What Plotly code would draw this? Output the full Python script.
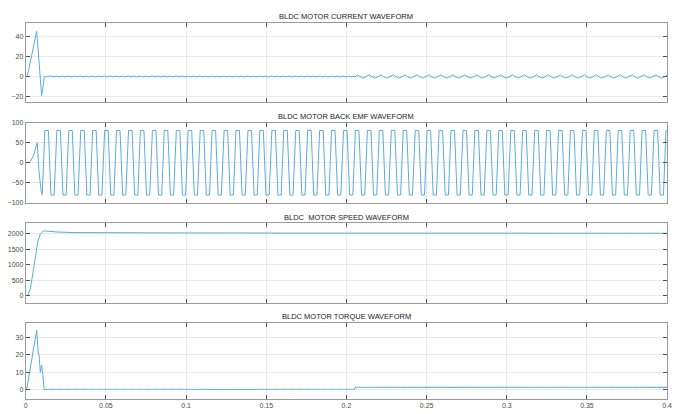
import plotly.graph_objects as go

# ---------------- data ----------------
x_tick_vals = [0, 0.05, 0.1, 0.15, 0.2, 0.25, 0.3, 0.35, 0.4]
x_tick_text = ["0", "0.05", "0.1", "0.15", "0.2", "0.25", "0.3", "0.35", "0.4"]

titles = ["BLDC MOTOR CURRENT WAVEFORM", "BLDC MOTOR BACK EMF WAVEFORM",
          "BLDC  MOTOR SPEED WAVEFORM", "BLDC MOTOR TORQUE WAVEFORM"]

y_ticks_current = [-20, 0, 20, 40]
y_ticks_emf = [-100, -50, 0, 50, 100]
y_ticks_speed = [0, 500, 1000, 1500, 2000]
y_ticks_torque = [0, 10, 20, 30]

load_time = 0.2

# start of each electrical cycle (start of back-EMF positive plateau)
cycle_t = [0.0119, 0.0194, 0.0268, 0.0343, 0.0417, 0.0492, 0.0566, 0.0641, 0.0715, 0.0790,
           0.0864, 0.0939, 0.1013, 0.1088, 0.1162, 0.1237, 0.1311, 0.1386, 0.1460, 0.1535,
           0.1609, 0.1684, 0.1758, 0.1833, 0.1907, 0.1982, 0.2056, 0.2131, 0.2205, 0.2280,
           0.2354, 0.2429, 0.2503, 0.2578, 0.2652, 0.2727, 0.2801, 0.2876, 0.2950, 0.3025,
           0.3099, 0.3174, 0.3248, 0.3323, 0.3397, 0.3472, 0.3546, 0.3621, 0.3695, 0.3770,
           0.3844, 0.3919, 0.3993]

# start-up transients
cur_start_t = [0, 0.0008, 0.002, 0.0037, 0.0055, 0.0068, 0.0078, 0.0088, 0.0095, 0.0099, 0.0106, 0.0112, 0.0116]
cur_start_v = [0, 0, 8, 22, 38, 45, 25, 0, -14, -19, -12, -2, 0]

emf_start_t = [0, 0.0025, 0.0045, 0.006, 0.0072, 0.0082, 0.0090, 0.0097, 0.0103]
emf_start_v = [0, 1, 15, 32, 50, -20, -55, -74, -80]

speed_t = [0, 0.0012, 0.003, 0.0045, 0.006, 0.0075, 0.009, 0.0105, 0.0115, 0.015, 0.02, 0.03, 0.05, 0.1, 0.2, 0.3, 0.4]
speed_v = [0, 10, 250, 800, 1350, 1750, 1980, 2080, 2095, 2080, 2060, 2042, 2033, 2030, 2025, 2022, 2020]

trq_start_t = [0, 0.0005, 0.002, 0.004, 0.0058, 0.0068, 0.0078, 0.0083, 0.0091, 0.0099, 0.0106, 0.0115]
trq_start_v = [0, 0, 8, 20, 30, 34, 21, 20, 10, 14, 9, 0]

# one electrical cycle of each waveform (offset from cycle start, value)
emf_cycle_dt = [0, 0.0022, 0.0038, 0.0058]
emf_cycle_v = [81, 81, -81, -81]

cur_idle_dt = [0, 0.0012, 0.0025, 0.0037, 0.0049, 0.0062]
cur_idle_v = [0.5, -0.3, 0.4, 0.5, -0.3, 0.4]
cur_load_dt = [0, 0.0012, 0.0025, 0.0045, 0.006]
cur_load_v = [0.3, 1.8, 0.2, -1.5, -0.6]

trq_idle_dt = [0, 0.0006, 0.0012, 0.0019, 0.0025, 0.0031, 0.0037, 0.0043, 0.0050, 0.0056, 0.0062, 0.0068]
trq_idle_v = [0.45, 0.15, 0.45, 0.15, 0.45, 0.15, 0.45, 0.15, 0.45, 0.15, 0.45, 0.15]
trq_load_dt = [0, 0.0006, 0.0012, 0.0019, 0.0025, 0.0031, 0.0037, 0.0043, 0.0050, 0.0056, 0.0062, 0.0068]
trq_load_v = [1.8, 1.1, 1.8, 1.1, 1.8, 1.1, 1.8, 1.1, 1.8, 1.1, 1.8, 1.1]
trq_step_t = [0.2, 0.2015, 0.203, 0.2045]
trq_step_v = [0.3, 2.4, 1.2, 2.1]


# ---------------- assemble traces ----------------
def periodic(start_t, start_v, idle_dt, idle_v, load_dt=None, load_v=None, extra_t=None, extra_v=None):
    xs, ys = list(start_t), list(start_v)
    for c in cycle_t:
        if load_dt is not None and c >= load_time:
            if extra_t is not None and xs[-1] < load_time:
                xs += extra_t
                ys += extra_v
            dts, vs = load_dt, load_v
        else:
            dts, vs = idle_dt, idle_v
        for d, v in zip(dts, vs):
            t = c + d
            if t > xs[-1]:
                xs.append(t)
                ys.append(v)
    return xs, ys


cur_x, cur_y = periodic(cur_start_t, cur_start_v, cur_idle_dt, cur_idle_v, cur_load_dt, cur_load_v)
emf_x, emf_y = periodic(emf_start_t, emf_start_v, emf_cycle_dt, emf_cycle_v)
trq_x, trq_y = periodic(trq_start_t, trq_start_v, trq_idle_dt, trq_idle_v, trq_load_dt, trq_load_v,
                        trq_step_t, trq_step_v)

line_color = "#5aabe0"
W, H = 683, 414
x0, x1 = 24, 672
panels = [
    (19, 100, [-25.6, 53.7], y_ticks_current, cur_x, cur_y, 13),
    (121, 202, [-100, 100], y_ticks_emf, emf_x, emf_y, 114),
    (223, 304.5, [-250, 2345], y_ticks_speed, speed_t, speed_v, 217),
    (324, 401.5, [-5, 38.4], y_ticks_torque, trq_x, trq_y, 318),
]

tick_font = dict(family="Liberation Sans, Arial, sans-serif", size=7, color="#4a4a4a")

fig = go.Figure()
layout = dict(width=W, height=H, margin=dict(l=0, r=0, t=0, b=0), autosize=False,
              paper_bgcolor="white", plot_bgcolor="white", showlegend=False,
              font=dict(family="Liberation Sans, Arial, sans-serif", size=7, color="#4a4a4a"))
annotations = []
for i, (top, bot, yr, yt, xs, ys, ty) in enumerate(panels):
    n = "" if i == 0 else str(i + 1)
    fig.add_trace(go.Scatter(x=xs, y=ys, mode="lines", line=dict(color=line_color, width=1),
                             xaxis="x" + n, yaxis="y" + n, hoverinfo="skip"))
    common = dict(showline=True, linecolor="#9a9a9a", linewidth=1, mirror="allticks",
                  ticks="inside", ticklen=4, tickcolor="#555", tickwidth=1,
                  showgrid=True, gridcolor="#e8e8e8", gridwidth=1, zeroline=False,
                  tickfont=tick_font)
    layout["xaxis" + n] = dict(domain=[x0 / W, x1 / W], range=[0, 0.4], tickvals=x_tick_vals,
                               ticktext=x_tick_text, showticklabels=(i == 3),
                               anchor="y" + n, **common)
    layout["yaxis" + n] = dict(domain=[1 - bot / H, 1 - top / H], range=yr, tickvals=yt,
                               anchor="x" + n, **common)
    annotations.append(dict(text=titles[i], x=348 / W, y=1 - ty / H, xref="paper", yref="paper",
                            xanchor="center", yanchor="middle", showarrow=False,
                            font=dict(family="Liberation Sans, Arial, sans-serif", size=7.5, color="#222")))
layout["annotations"] = annotations
fig.update_layout(**layout)
fig.write_html("out.html")
